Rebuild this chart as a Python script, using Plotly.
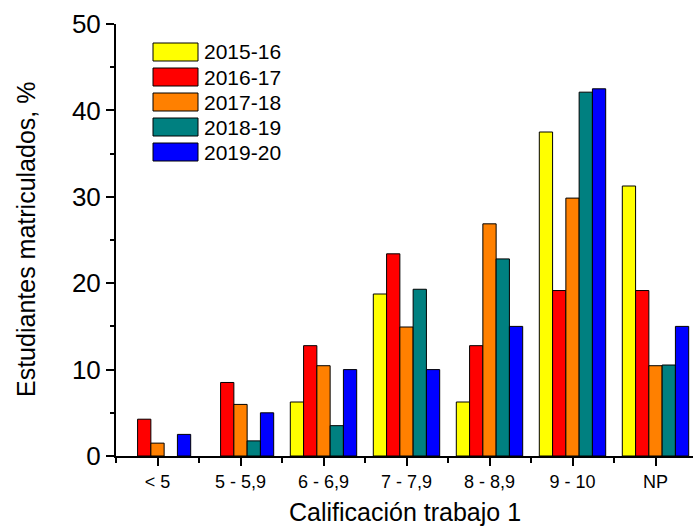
import plotly.graph_objects as go

categories = ["< 5", "5 - 5,9", "6 - 6,9", "7 - 7,9", "8 - 8,9", "9 - 10", "NP"]
series_names = ["2015-16", "2016-17", "2017-18", "2018-19", "2019-20"]
v_2015_16 = [0, 0, 6.25, 18.75, 6.25, 37.5, 31.25]
v_2016_17 = [4.26, 8.51, 12.77, 23.4, 12.77, 19.15, 19.15]
v_2017_18 = [1.49, 5.97, 10.45, 14.93, 26.87, 29.85, 10.45]
v_2018_19 = [0, 1.75, 3.51, 19.3, 22.81, 42.11, 10.53]
v_2019_20 = [2.5, 5.0, 10.0, 10.0, 15.0, 42.5, 15.0]
series_values = [v_2015_16, v_2016_17, v_2017_18, v_2018_19, v_2019_20]
colors = ["#FFFF00", "#FF0000", "#FF8000", "#008080", "#0000FF"]

FONT = "Liberation Sans, Arial, sans-serif"
W, H = 693, 528
ML, MR, MT, MB = 116, 0, 24, 72
PW, PH = W - ML - MR, H - MT - MB

xpos = list(range(len(categories)))

fig = go.Figure()
for name, vals, col in zip(series_names, series_values, colors):
    fig.add_trace(go.Bar(
        x=xpos, y=vals, name=name,
        marker=dict(color=col,
                    line=dict(color="#000000", width=[0 if v == 0 else 1 for v in vals])),
        showlegend=False,
    ))

def px_x(px):
    return (px - ML) / PW

def px_y(py):
    return (H - MB - py) / PH

# manual legend (boxes + labels)
for i, (name, col) in enumerate(zip(series_names, colors)):
    cy = 52 + 25 * i
    fig.add_shape(type="rect", xref="paper", yref="paper",
                  x0=px_x(153), x1=px_x(198), y0=px_y(cy + 9), y1=px_y(cy - 9),
                  fillcolor=col, line=dict(color="#000000", width=1))
    fig.add_annotation(xref="paper", yref="paper", x=px_x(202), y=px_y(cy),
                       text=name, showarrow=False, xanchor="left", yanchor="middle",
                       font=dict(family=FONT, size=21, color="#000000"))

# axis titles
fig.add_annotation(xref="paper", yref="paper", x=0.5, y=px_y(512),
                   text="Calificación trabajo 1", showarrow=False,
                   xanchor="center", yanchor="middle",
                   font=dict(family=FONT, size=25, color="#000000"))
fig.add_annotation(xref="paper", yref="paper", x=px_x(26), y=0.5,
                   text="Estudiantes matriculados, %", showarrow=False, textangle=-90,
                   xanchor="center", yanchor="middle",
                   font=dict(family=FONT, size=25, color="#000000"))

fig.update_layout(
    width=W, height=H,
    margin=dict(l=ML, r=MR, t=MT, b=MB, autoexpand=False),
    paper_bgcolor="white", plot_bgcolor="white",
    barmode="group", bargap=0.2, bargroupgap=0,
    font=dict(family=FONT, color="#000000"),
)
fig.update_xaxes(
    automargin=False,
    range=[-0.5, -0.5 + PW / 83.0],
    tickmode="array", tickvals=xpos, ticktext=categories,
    tickfont=dict(family=FONT, size=18, color="#000000"),
    ticks="outside", ticklen=8, tickwidth=2, tickcolor="#000000",
    minor=dict(tick0=0.5, dtick=1, ticks="outside", ticklen=5, tickwidth=2, tickcolor="#000000"),
    showline=True, linecolor="#000000", linewidth=2,
    showgrid=False, zeroline=False,
)
fig.update_yaxes(
    automargin=False,
    range=[0, 50], dtick=10, tick0=0,
    tickfont=dict(family=FONT, size=26, color="#000000"),
    ticks="outside", ticklen=8, tickwidth=2, tickcolor="#000000",
    minor=dict(dtick=5, tick0=0, ticks="outside", ticklen=4, tickwidth=2, tickcolor="#000000"),
    showline=True, linecolor="#000000", linewidth=2,
    showgrid=False, zeroline=False,
)

fig.write_html(
    "out.html",
    config={"displayModeBar": False},
    post_script="document.body.style.margin='0';document.body.style.overflow='hidden';",
)
